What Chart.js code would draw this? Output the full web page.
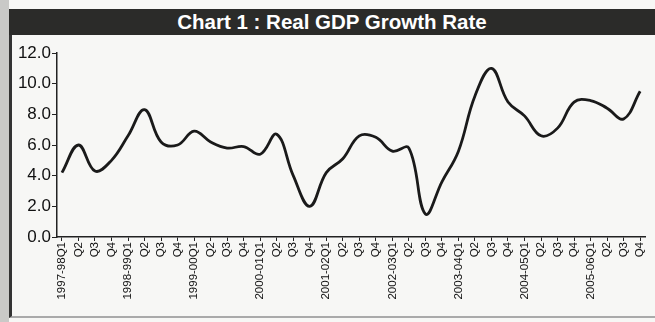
<!DOCTYPE html>
<html>
<head>
<meta charset="utf-8">
<script src="https://cdn.jsdelivr.net/npm/chart.js@4"></script>
<style>
  html, body { margin: 0; padding: 0; }
  body { width: 655px; height: 322px; background: #f7f7f5; position: relative; overflow: hidden; font-family: "Liberation Sans", Arial, sans-serif; }
  #edge { position: absolute; left: 0; top: 0; width: 9px; height: 322px; background: #c9c9c7; }
  #frame { position: absolute; left: 9px; top: 34px; width: 646px; height: 282px; border-left: 3px solid #333; border-bottom: 2px solid #aaa; }
  #title { position: absolute; left: 9px; top: 9px; width: 646px; height: 26px; background: #2b2b29; color: #fff; font-weight: bold; font-size: 20.5px; line-height: 26px; text-align: center; }
  #wrap { position: absolute; left: 0; top: 0; width: 655px; height: 322px; }
</style>
</head>
<body>
<div id="edge"></div>
<div id="frame"></div>
<div id="title">Chart 1 : Real GDP Growth Rate</div>
<div id="wrap"><canvas id="chart1" width="655" height="322"></canvas></div>
<script>
// quarters 1997-98 Q1 .. 2005-06 Q4
var quarters = [
    '1997-98Q1','Q2','Q3','Q4',
    '1998-99Q1','Q2','Q3','Q4',
    '1999-00Q1','Q2','Q3','Q4',
    '2000-01Q1','Q2','Q3','Q4',
    '2001-02Q1','Q2','Q3','Q4',
    '2002-03Q1','Q2','Q3','Q4',
    '2003-04Q1','Q2','Q3','Q4',
    '2004-05Q1','Q2','Q3','Q4',
    '2005-06Q1','Q2','Q3','Q4'
];
var growth = [
    4.2, 6.0, 4.3, 5.0,
    6.6, 8.3, 6.2, 6.0,
    6.9, 6.2, 5.8, 5.9,
    5.4, 6.7, 4.0, 2.0,
    4.2, 5.1, 6.6, 6.5,
    5.6, 5.8, 1.5, 3.6,
    5.6, 9.2, 11.0, 8.8,
    7.9, 6.6, 7.1, 8.8,
    8.9, 8.4, 7.7, 9.5
];
var yTicks = [0, 2, 4, 6, 8, 10, 12];

var points = [];
for (var i = 0; i < growth.length; i++) {
    points.push({x: i, y: growth[i]});
}

var ctx = document.getElementById('chart1').getContext('2d');
var myChart = new Chart(ctx, {
    type: 'line',
    data: {
        datasets: [{
            label: 'Real GDP Growth Rate',
            data: points,
            borderColor: '#1a1a1a',
            borderWidth: 2.8,
            tension: 0.4,
            pointRadius: 0,
            fill: false
        }]
    },
    options: {
        responsive: false,
        animation: false,
        layout: {
            padding: {top: 53, left: 7, right: 5, bottom: 22}
        },
        plugins: {
            legend: {display: false},
            tooltip: {enabled: false}
        },
        scales: {
            x: {
                type: 'linear',
                min: -0.3,
                max: 35.3,
                afterBuildTicks: function(scale){
                    scale.ticks = quarters.map(function(q, i){ return {value: i}; });
                },
                afterFit: function(scale){ scale.height = 63; },
                ticks: {
                    autoSkip: false,
                    maxRotation: 90,
                    minRotation: 90,
                    padding: 1,
                    color: '#111',
                    font: {family: 'Liberation Sans', size: 11.5},
                    callback: function(v){ return quarters[v]; }
                },
                grid: {drawOnChartArea: false, drawTicks: true, tickLength: 4, color: '#222'},
                border: {color: '#222', width: 1.5}
            },
            y: {
                min: 0,
                max: 12,
                afterBuildTicks: function(scale){
                    scale.ticks = yTicks.map(function(v){ return {value: v}; });
                },
                afterFit: function(scale){ scale.width = 50; },
                ticks: {
                    padding: 1,
                    color: '#111',
                    font: {family: 'Liberation Sans', size: 17},
                    callback: function(v){ return v.toFixed(1); }
                },
                grid: {drawOnChartArea: false, drawTicks: true, tickLength: 5, color: '#222'},
                border: {color: '#222', width: 1.5}
            }
        }
    }
});
</script>
</body>
</html>
